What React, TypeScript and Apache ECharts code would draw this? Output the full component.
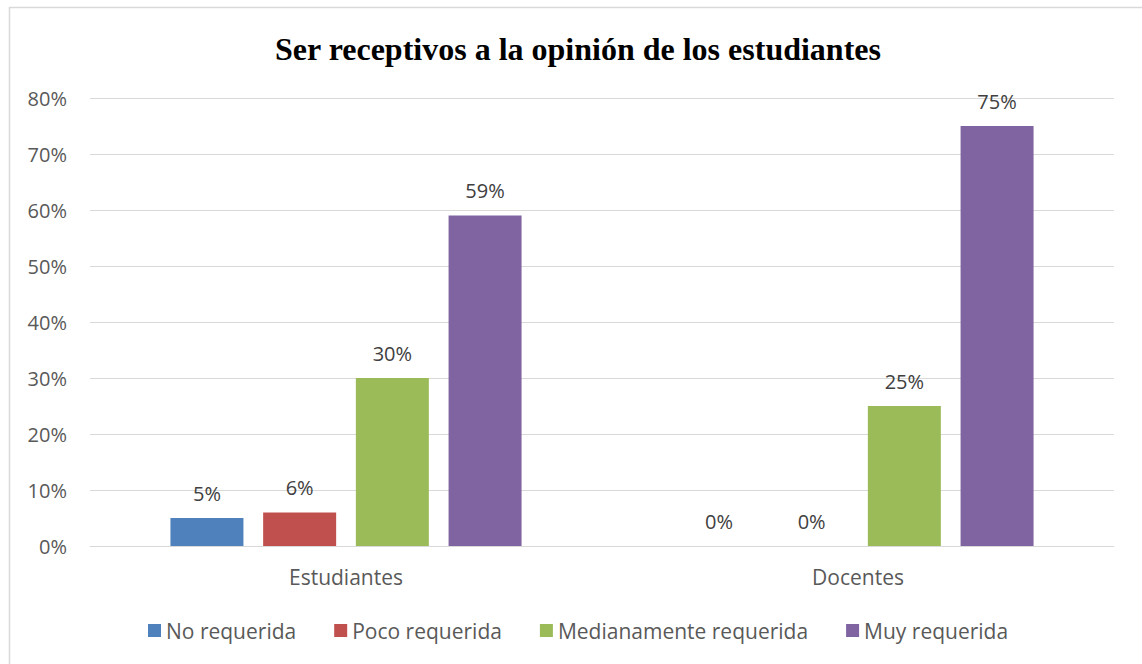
import React, { useEffect, useRef } from "react";
import * as echarts from "echarts";

const categories = ["Estudiantes", "Docentes"];
const seriesNames = ["No requerida", "Poco requerida", "Medianamente requerida", "Muy requerida"];
const noRequerida = [5, 0];
const pocoRequerida = [6, 0];
const medianamente = [30, 25];
const muyRequerida = [59, 75];
const seriesValues = [noRequerida, pocoRequerida, medianamente, muyRequerida];
const colors = ["#4f81bd", "#c0504d", "#9bbb59", "#8064a2"];
const titleText = "Ser receptivos a la opinión de los estudiantes";

export default function App() {
  const ref = useRef<HTMLDivElement>(null);
  useEffect(() => {
    if (!ref.current) return;
    const chart = echarts.init(ref.current, null, { renderer: "svg" });
    const font = "'Open Sans', Lato, sans-serif";
    chart.setOption({
      animation: false,
      backgroundColor: "#ffffff",
      title: {
        text: titleText,
        left: 270,
        top: 28,
        textStyle: {
          fontFamily: "'Liberation Serif', 'Times New Roman', serif",
          fontWeight: "bold",
          fontSize: 32,
          color: "#000000",
        },
      },
      graphic: [
        {
          type: "rect",
          shape: { x: 9.5, y: 7.5, width: 1200, height: 700 },
          style: { fill: "none", stroke: "#d9d9d9", lineWidth: 1.5 },
          silent: true,
        },
      ],
      legend: {
        bottom: 18,
        left: 143,
        itemWidth: 13,
        itemHeight: 13,
        itemGap: 38,
        icon: "rect",
        textStyle: { fontFamily: font, fontSize: 21, color: "#595959" },
        data: seriesNames,
      },
      grid: { left: 90, right: 28, top: 98, bottom: 118, containLabel: false },
      xAxis: {
        type: "category",
        data: categories,
        axisLine: { show: true, lineStyle: { color: "#d9d9d9", width: 1 } },
        axisTick: { show: false },
        axisLabel: { fontFamily: font, fontSize: 21, color: "#595959", margin: 20 },
      },
      yAxis: {
        type: "value",
        min: 0,
        max: 80,
        interval: 10,
        axisLine: { show: false },
        axisTick: { show: false },
        splitLine: { lineStyle: { color: "#d9d9d9", width: 1 } },
        axisLabel: {
          fontFamily: font,
          fontSize: 20,
          color: "#595959",
          margin: 23,
          formatter: "{value}%",
        },
      },
      series: seriesValues.map((vals, i) => ({
        name: seriesNames[i],
        type: "bar",
        data: vals,
        barWidth: 73,
        barGap: "27%",
        itemStyle: { color: colors[i] },
        label: {
          show: true,
          position: "top",
          distance: 15,
          formatter: "{c}%",
          fontFamily: font,
          fontSize: 20,
          color: "#404040",
        },
      })),
    });
    return () => chart.dispose();
  }, []);
  return (
    <div
      ref={ref}
      style={{ position: "fixed", left: 0, top: 0, width: 1142, height: 664 }}
    />
  );
}
